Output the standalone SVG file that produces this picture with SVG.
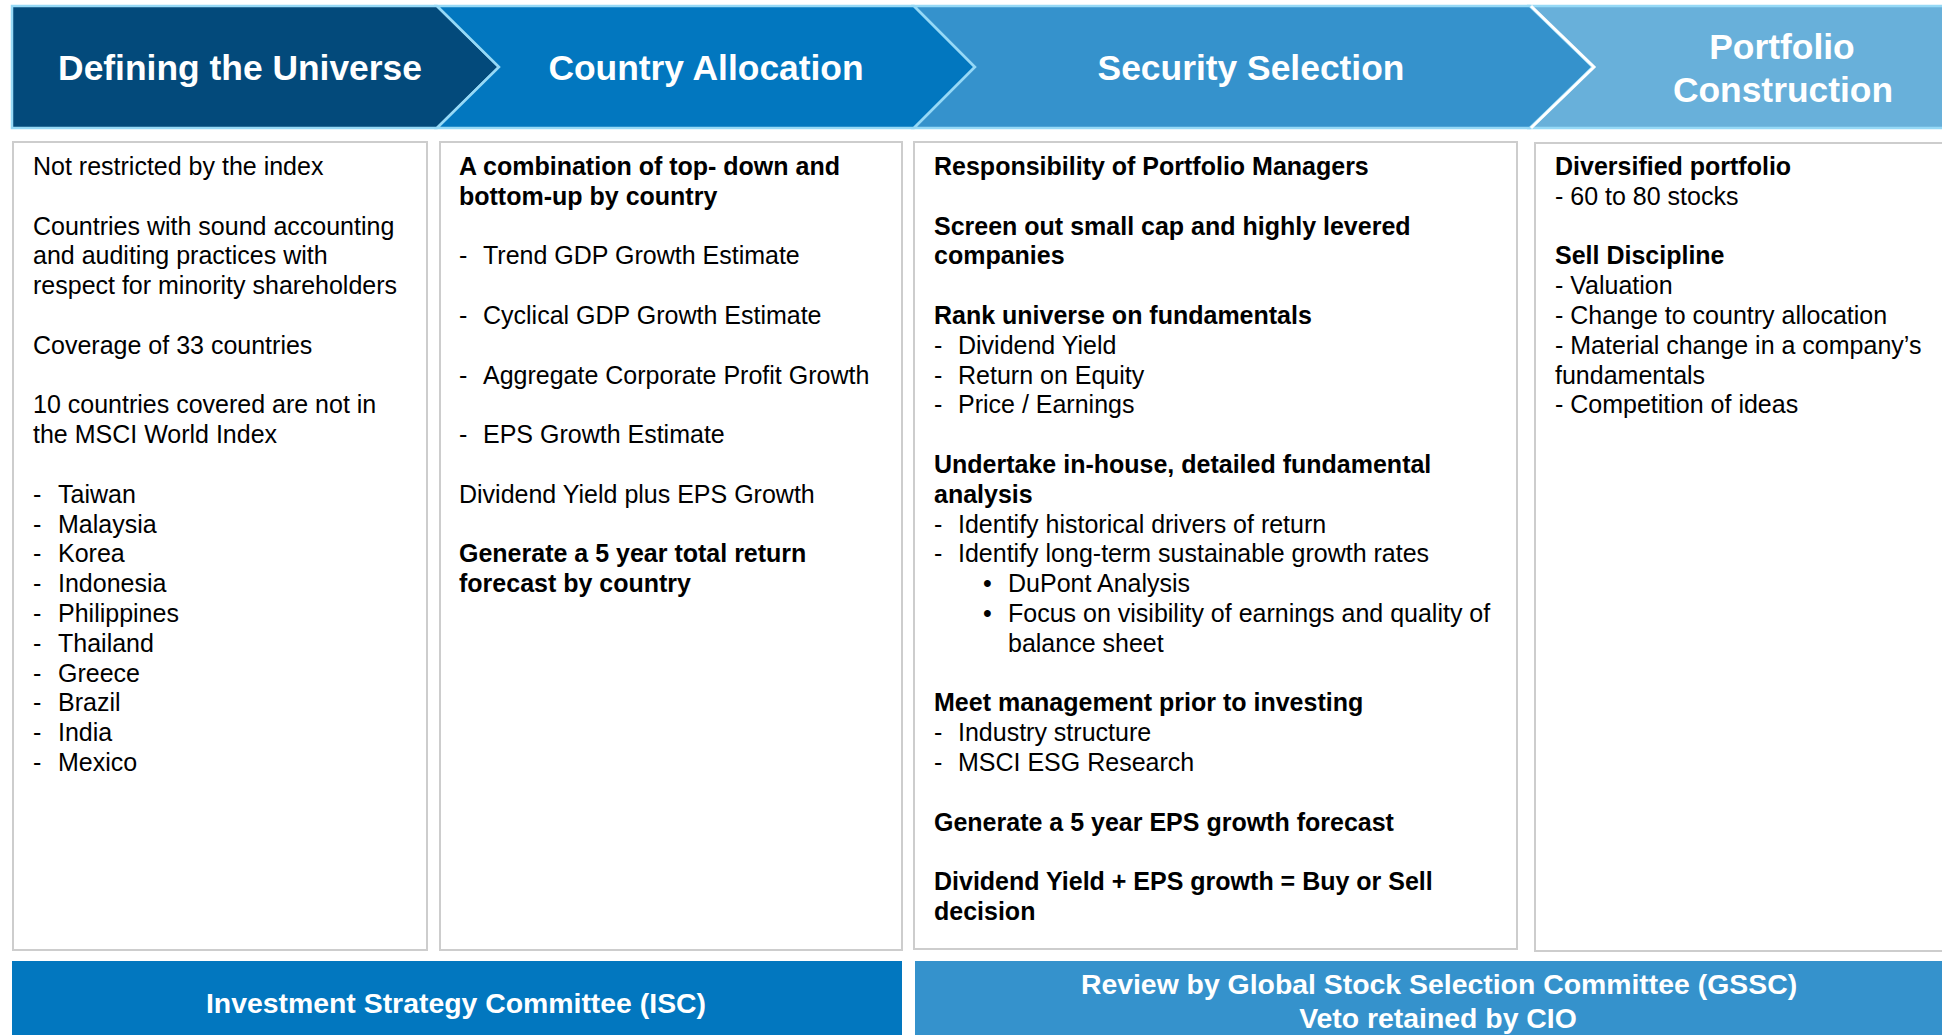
<svg xmlns="http://www.w3.org/2000/svg" width="1942" height="1035" viewBox="0 0 1942 1035">
<style>
text{font-family:"Liberation Sans",Arial,sans-serif}
.hd{font-size:35.4px;font-weight:bold;fill:#fff;text-anchor:middle}
.t{font-size:25px;fill:#000}
.b{font-size:25px;font-weight:bold;fill:#000}
.bar{font-size:28.4px;font-weight:bold;fill:#fff;text-anchor:middle}
.box{fill:#fff;stroke:#cdcdcd;stroke-width:2}
</style>
<rect width="1942" height="1035" fill="#fff"/>

<g id="header-defining">
<polygon points="12,6 437,6 499,67 437,128 12,128" fill="#034a7b" stroke="#96d9f6" stroke-width="2.5"/>
<text class="hd" x="240" y="80">Defining the Universe</text>
</g>
<g id="header-country">
<polygon points="437,6 914,6 975,67 914,128 437,128 499,67" fill="#0277bf" stroke="#96d9f6" stroke-width="2.5"/>
<text class="hd" x="706" y="80">Country Allocation</text>
</g>
<g id="header-security">
<polygon points="914,6 1530,6 1593,67 1530,128 914,128 975,67" fill="#3592cc" stroke="#96d9f6" stroke-width="2.5"/>
<text class="hd" x="1251" y="80">Security Selection</text>
</g>
<g id="header-portfolio">
<polygon points="1530,6 1950,6 1950,128 1530,128 1593,67" fill="#68b0da" stroke="#96d9f6" stroke-width="2.5"/>
<polyline points="1531,6 1594,67 1531,128" fill="none" stroke="#fff" stroke-width="3"/>
<text class="hd" x="1782" y="59">Portfolio</text>
<text class="hd" x="1783" y="102">Construction</text>
</g>

<g id="box-universe">
<rect class="box" x="13" y="142" width="414" height="808"/>
<text class="t" x="33" y="175">Not restricted by the index</text>
<text class="t" x="33" y="234.6">Countries with sound accounting</text>
<text class="t" x="33" y="264.4">and auditing practices with</text>
<text class="t" x="33" y="294.2">respect for minority shareholders</text>
<text class="t" x="33" y="353.8">Coverage of 33 countries</text>
<text class="t" x="33" y="413.4">10 countries covered are not in</text>
<text class="t" x="33" y="443.2">the MSCI World Index</text>
<text class="t" y="502.8"><tspan x="33">-</tspan><tspan x="58">Taiwan</tspan></text>
<text class="t" y="532.6"><tspan x="33">-</tspan><tspan x="58">Malaysia</tspan></text>
<text class="t" y="562.4"><tspan x="33">-</tspan><tspan x="58">Korea</tspan></text>
<text class="t" y="592.2"><tspan x="33">-</tspan><tspan x="58">Indonesia</tspan></text>
<text class="t" y="622"><tspan x="33">-</tspan><tspan x="58">Philippines</tspan></text>
<text class="t" y="651.8"><tspan x="33">-</tspan><tspan x="58">Thailand</tspan></text>
<text class="t" y="681.6"><tspan x="33">-</tspan><tspan x="58">Greece</tspan></text>
<text class="t" y="711.4"><tspan x="33">-</tspan><tspan x="58">Brazil</tspan></text>
<text class="t" y="741.2"><tspan x="33">-</tspan><tspan x="58">India</tspan></text>
<text class="t" y="771"><tspan x="33">-</tspan><tspan x="58">Mexico</tspan></text>
</g>

<g id="box-country">
<rect class="box" x="440" y="142" width="462" height="808"/>
<text class="b" x="459" y="175">A combination of top- down and</text>
<text class="b" x="459" y="204.8">bottom-up by country</text>
<text class="t" y="264.4"><tspan x="459">-</tspan><tspan x="483">Trend GDP Growth Estimate</tspan></text>
<text class="t" y="324"><tspan x="459">-</tspan><tspan x="483">Cyclical GDP Growth Estimate</tspan></text>
<text class="t" y="383.6"><tspan x="459">-</tspan><tspan x="483">Aggregate Corporate Profit Growth</tspan></text>
<text class="t" y="443.2"><tspan x="459">-</tspan><tspan x="483">EPS Growth Estimate</tspan></text>
<text class="t" x="459" y="502.8">Dividend Yield plus EPS Growth</text>
<text class="b" x="459" y="562.4">Generate a 5 year total return</text>
<text class="b" x="459" y="592.2">forecast by country</text>
</g>

<g id="box-security">
<rect class="box" x="914" y="142" width="603" height="807"/>
<text class="b" x="934" y="175">Responsibility of Portfolio Managers</text>
<text class="b" x="934" y="234.6">Screen out small cap and highly levered</text>
<text class="b" x="934" y="264.4">companies</text>
<text class="b" x="934" y="324">Rank universe on fundamentals</text>
<text class="t" y="353.8"><tspan x="934">-</tspan><tspan x="958">Dividend Yield</tspan></text>
<text class="t" y="383.6"><tspan x="934">-</tspan><tspan x="958">Return on Equity</tspan></text>
<text class="t" y="413.4"><tspan x="934">-</tspan><tspan x="958">Price / Earnings</tspan></text>
<text class="b" x="934" y="473">Undertake in-house, detailed fundamental</text>
<text class="b" x="934" y="502.8">analysis</text>
<text class="t" y="532.6"><tspan x="934">-</tspan><tspan x="958">Identify historical drivers of return</tspan></text>
<text class="t" y="562.4"><tspan x="934">-</tspan><tspan x="958">Identify long-term sustainable growth rates</tspan></text>
<text class="t" y="592.2"><tspan x="983">•</tspan><tspan x="1008">DuPont Analysis</tspan></text>
<text class="t" y="622"><tspan x="983">•</tspan><tspan x="1008">Focus on visibility of earnings and quality of</tspan></text>
<text class="t" x="1008" y="651.8">balance sheet</text>
<text class="b" x="934" y="711.4">Meet management prior to investing</text>
<text class="t" y="741.2"><tspan x="934">-</tspan><tspan x="958">Industry structure</tspan></text>
<text class="t" y="771"><tspan x="934">-</tspan><tspan x="958">MSCI ESG Research</tspan></text>
<text class="b" x="934" y="830.6">Generate a 5 year EPS growth forecast</text>
<text class="b" x="934" y="890.2">Dividend Yield + EPS growth = Buy or Sell</text>
<text class="b" x="934" y="920">decision</text>
</g>

<g id="box-portfolio">
<rect class="box" x="1535" y="143" width="420" height="808"/>
<text class="b" x="1555" y="175">Diversified portfolio</text>
<text class="t" x="1555" y="204.8">- 60 to 80 stocks</text>
<text class="b" x="1555" y="264.4">Sell Discipline</text>
<text class="t" x="1555" y="294.2">- Valuation</text>
<text class="t" x="1555" y="324">- Change to country allocation</text>
<text class="t" x="1555" y="353.8">- Material change in a company’s</text>
<text class="t" x="1555" y="383.6">fundamentals</text>
<text class="t" x="1555" y="413.4">- Competition of ideas</text>
</g>

<g id="bar-isc">
<rect x="12" y="961" width="890" height="80" fill="#0277bf"/>
<text class="bar" x="456" y="1013">Investment Strategy Committee (ISC)</text>
</g>
<g id="bar-gssc">
<rect x="915" y="961" width="1035" height="80" fill="#3592cc"/>
<text class="bar" x="1439" y="994">Review by Global Stock Selection Committee (GSSC)</text>
<text class="bar" x="1438" y="1028">Veto retained by CIO</text>
</g>

<g id="connectors"/>
</svg>
